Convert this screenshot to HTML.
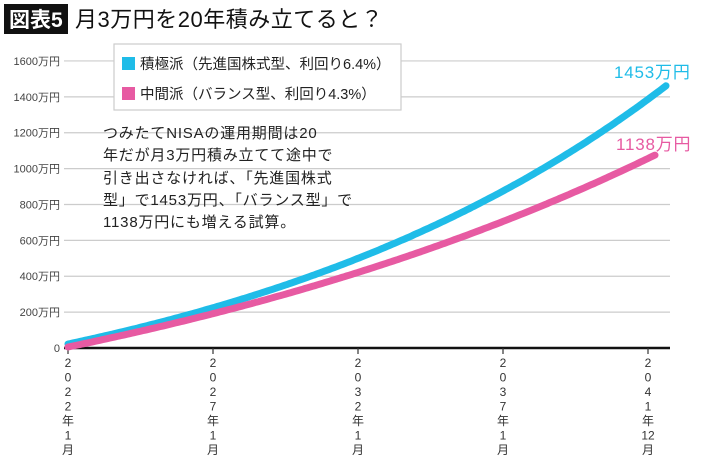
<!DOCTYPE html>
<html><head><meta charset="utf-8"><style>
body{margin:0;width:710px;height:458px;background:#fff;overflow:hidden;font-family:"Liberation Sans","Noto Sans CJK JP",sans-serif;}
</style></head><body>
<svg id="s" width="710" height="458" xmlns="http://www.w3.org/2000/svg" style="position:absolute;left:0;top:0;font-family:'Liberation Sans','Noto Sans CJK JP',sans-serif">
<rect x="4" y="4" width="64" height="30" fill="#111"/>
<text x="9" y="27" font-size="21" fill="#fff" font-weight="bold">図表5</text>
<text x="75" y="27" font-size="22" fill="#111" letter-spacing="0.5">月3万円を20年積み立てると？</text>
<g stroke="#ccc" stroke-width="1.2" id="grid"></g>
<g font-size="11" fill="#444" text-anchor="end" id="ylab"></g>
<line x1="64" y1="348" x2="670" y2="348" stroke="#111" stroke-width="2.5"/>
<g stroke="#333" stroke-width="1.2" id="ticks"></g>
<g font-size="12" fill="#333" text-anchor="middle" id="xlab"></g>
<path id="c1" fill="none" stroke="#1fbce8" stroke-width="7" stroke-linecap="round"/>
<path id="c2" fill="none" stroke="#e75aa2" stroke-width="7" stroke-linecap="round"/>
<rect x="114" y="44" width="287" height="66" fill="#fff" stroke="#ccc" stroke-width="1.2"/>
<rect x="122" y="57" width="13" height="13" fill="#1fbce8"/>
<text x="140" y="69" font-size="14.5" fill="#222">積極派（先進国株式型、利回り6.4%）</text>
<rect x="122" y="87" width="13" height="13" fill="#e75aa2"/>
<text x="140" y="99" font-size="14.5" fill="#222">中間派（バランス型、利回り4.3%）</text>
<g font-size="15" fill="#222" letter-spacing="0.8">
<text x="103" y="138">つみたてNISAの運用期間は20</text>
<text x="103" y="160">年だが月3万円積み立てて途中で</text>
<text x="103" y="183">引き出さなければ、「先進国株式</text>
<text x="103" y="205">型」で1453万円、「バランス型」で</text>
<text x="103" y="227">1138万円にも増える試算。</text>
</g>
<text x="614" y="78" font-size="17" fill="#1fbce8" letter-spacing="0.8">1453万円</text>
<text x="616" y="150" font-size="17" fill="#e75aa2" letter-spacing="0.8">1138万円</text>
</svg>
<script>
var ns="http://www.w3.org/2000/svg";
function el(p,t,a,txt){var e=document.createElementNS(ns,t);for(var k in a)e.setAttribute(k,a[k]);if(txt)e.textContent=txt;document.getElementById(p).appendChild(e);}
for(var v=200;v<=1600;v+=200){var y=348-v*0.1794;el("grid","line",{x1:64,y1:y,x2:670,y2:y});el("ylab","text",{x:60,y:y+4},v+"万円");}
el("ylab","text",{x:60,y:352},"0");
var xs=[68,213,358,503,648],labs=[["2","0","2","2","年","1","月"],["2","0","2","7","年","1","月"],["2","0","3","2","年","1","月"],["2","0","3","7","年","1","月"],["2","0","4","1","年","12","月"]];
xs.forEach(function(x,i){el("ticks","line",{x1:x,y1:348,x2:x,y2:354});labs[i].forEach(function(c,j){el("xlab","text",{x:x,y:367+j*14.5},c);});});
function path(r,xe,sc,y0){var d="",m=r/12;for(var n=0;n<=240;n++){var fv=3*(Math.pow(1+m,n)-1)/m*sc;var x=68+n*(xe-68)/240,y=348-y0-fv*0.1794;d+=(n?"L":"M")+x.toFixed(1)+" "+y.toFixed(1);}return d;}
document.getElementById("c1").setAttribute("d",path(0.064,666,0.99,4));
document.getElementById("c2").setAttribute("d",path(0.043,655,0.94,1));
</script>
</body></html>
